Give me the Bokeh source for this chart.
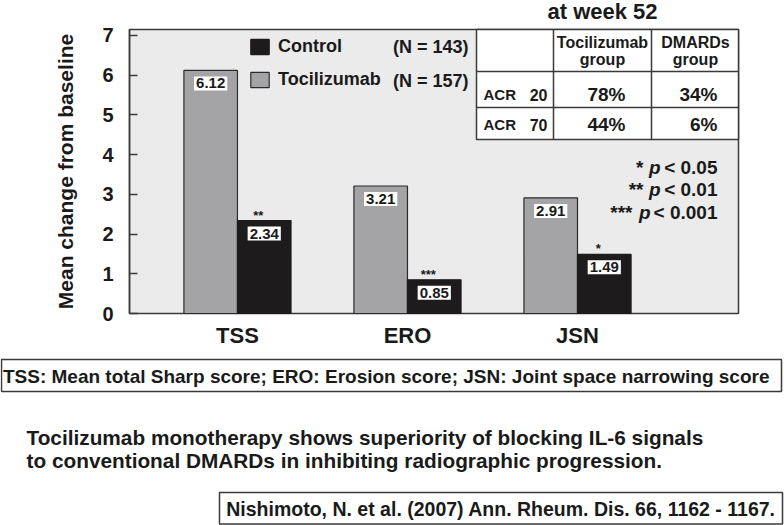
from bokeh.plotting import figure
from bokeh.models import (Range1d, FixedTicker, Legend, LegendItem, ColumnDataSource,
                          LinearAxis)
from bokeh.embed import file_html
from bokeh.resources import INLINE
from bokeh.core.properties import value

# ---------------- data ----------------
categories = ["TSS", "ERO", "JSN"]
descriptions = ["Mean total Sharp score", "Erosion score", "Joint space narrowing score"]
control = [2.34, 0.85, 1.49]
tocilizumab = [6.12, 3.21, 2.91]
significance = ["**", "***", "*"]
control_n = 143
tocilizumab_n = 157
y_ticks = [0, 1, 2, 3, 4, 5, 6, 7]

table_title = "at week 52"
table_header = [["Tocilizumab", "group"], ["DMARDs", "group"]]
acr_levels = ["20", "70"]
acr_tocilizumab = ["78%", "44%"]
acr_dmards = ["34%", "6%"]

pvalue_stars = ["*", "**", "***"]
pvalue_levels = ["< 0.05", "< 0.01", "< 0.001"]

summary_lines = ["Tocilizumab monotherapy shows superiority of blocking IL-6 signals",
                 "to conventional DMARDs in inhibiting radiographic progression."]
citation = "Nishimoto, N. et al. (2007) Ann. Rheum. Dis. 66, 1162 - 1167."

FONT = "Liberation Sans"
INK = "#1a1a1a"
EDGE = "#3a3a3a"
GRAY = "#a4a4a6"
BLACK = "#1e1b1c"

W, H = 784, 525
# plot area in page pixels and in data units
PL, PR, PT, PB = 129, 738, 29, 313
XL, XR, YT = 0.365, 3.947, 7.15
ux = (XR - XL) / (PR - PL)
uy = YT / (PB - PT)

p = figure(width=W, height=H,
           x_range=Range1d(XL - PL * ux, XR + (W - PR) * ux),
           y_range=Range1d(-(H - PB) * uy, YT + PT * uy),
           output_backend="svg", toolbar_location=None,
           x_axis_location=None, y_axis_location=None, min_border=0)
p.outline_line_color = None
p.background_fill_color = "white"
p.border_fill_color = "white"
p.xgrid.visible = False
p.ygrid.visible = False

# page-pixel helper ranges for annotations (y grows downward)
p.extra_x_ranges = {"px": Range1d(0, W)}
p.extra_y_ranges = {"px": Range1d(H, 0)}
px = dict(x_range_name="px", y_range_name="px")

# plot area
p.quad(left=[XL], right=[XR], bottom=[0], top=[YT], fill_color="#ebebeb",
       line_color=EDGE, line_width=1.5)

idx = [i + 1 for i in range(len(categories))]
w = 0.315
src = ColumnDataSource(dict(
    xt=[i - w / 2 for i in idx], xc=[i + w / 2 for i in idx],
    toc=tocilizumab, ctl=control,
    toc_lbl=[f"{v:.2f}" for v in tocilizumab], ctl_lbl=[f"{v:.2f}" for v in control],
    sig=significance))

r_toc = p.vbar(x="xt", top="toc", bottom=0, width=w, source=src,
               fill_color=GRAY, line_color="#2b2b2b", line_width=1.2)
r_ctl = p.vbar(x="xc", top="ctl", bottom=0, width=w, source=src,
               fill_color=BLACK, line_color=BLACK, line_width=1.2)

lbl_kw = dict(text_align="center", text_baseline="top", y_offset=6, text_font=value(FONT),
              text_font_style="bold", text_font_size="15px", text_color=INK,
              background_fill_color="white", padding=2)
p.text(x="xt", y="toc", text="toc_lbl", source=src, **lbl_kw)
p.text(x="xc", y="ctl", text="ctl_lbl", source=src, **lbl_kw)
p.text(x="xc", y="ctl", text="sig", source=src, text_align="center", text_baseline="bottom",
       x_offset=-6, y_offset=2, text_font=value(FONT), text_font_style="bold",
       text_font_size="13px", text_color=INK)

# axes
xaxis = LinearAxis(fixed_location=0, ticker=FixedTicker(ticks=idx),
                   major_label_overrides={i: c for i, c in zip(idx, categories)},
                   major_tick_in=0, major_tick_out=0, minor_tick_line_color=None,
                   axis_line_color=None, major_label_standoff=9,
                   major_label_text_font=FONT, major_label_text_font_style="bold",
                   major_label_text_font_size="22px", major_label_text_color=INK)
p.add_layout(xaxis, "below")

yaxis = LinearAxis(fixed_location=XL, bounds=(0, YT), ticker=FixedTicker(ticks=y_ticks),
                   major_tick_in=8, major_tick_out=0, major_tick_line_color=EDGE,
                   major_tick_line_width=1.5, minor_tick_line_color=None,
                   axis_line_color=EDGE, axis_line_width=1.5, major_label_standoff=16,
                   major_label_text_font=FONT, major_label_text_font_style="bold",
                   major_label_text_font_size="20px", major_label_text_color=INK,
                   axis_label="Mean change from baseline", axis_label_standoff=22,
                   axis_label_text_font=FONT, axis_label_text_font_style="bold",
                   axis_label_text_font_size="21px", axis_label_text_color=INK)
p.add_layout(yaxis, "left")

# legend
legend = Legend(items=[LegendItem(label="Control", renderers=[r_ctl]),
                       LegendItem(label="Tocilizumab", renderers=[r_toc])],
                location=(248, 435), glyph_width=23, glyph_height=19, label_height=19,
                spacing=12, padding=0, margin=0, label_standoff=7,
                border_line_color=None, background_fill_alpha=0,
                label_text_font=FONT, label_text_font_style="bold",
                label_text_font_size="18px", label_text_color=INK)
p.add_layout(legend)

tkw = dict(text_font=value(FONT), text_font_style="bold", text_color=INK, **px)
p.text(x=[468, 468], y=[46, 80], text=[f"(N = {control_n})", f"(N = {tocilizumab_n})"],
       text_align="right", text_baseline="middle", text_font_size="18px", **tkw)

# table
p.quad(left=[476], right=[738], top=[29], bottom=[139], fill_color="white",
       line_color=EDGE, line_width=1.5, **px)
p.segment(x0=[553, 651, 476, 476], y0=[29, 29, 71, 107],
          x1=[553, 651, 738, 738], y1=[139, 139, 71, 107],
          line_color=EDGE, line_width=1.5, **px)
p.text(x=[602], y=[11], text=[table_title], text_align="center", text_baseline="middle",
       text_font_size="22px", **tkw)
for (l1, l2), cx in zip(table_header, [602, 695]):
    p.text(x=[cx, cx], y=[42, 59], text=[l1, l2], text_align="center",
           text_baseline="middle", text_font_size="16px", **tkw)
row_y = [94, 124]
p.text(x=[483] * 2, y=row_y, text=["ACR"] * 2, text_align="left", text_baseline="middle",
       text_font_size="15px", **tkw)
p.text(x=[547] * 2, y=row_y, text=acr_levels, text_align="right", text_baseline="middle",
       text_font_size="16px", **tkw)
p.text(x=[625] * 2, y=row_y, text=acr_tocilizumab, text_align="right", text_baseline="middle",
       text_font_size="19px", **tkw)
p.text(x=[717] * 2, y=row_y, text=acr_dmards, text_align="right", text_baseline="middle",
       text_font_size="19px", **tkw)

# significance key
pv_y = [167, 189, 212]
p.text(x=[717] * 3, y=pv_y, text=pvalue_levels, text_align="right", text_baseline="middle",
       text_font_size="19px", **tkw)
p.text(x=[660, 660, 650], y=pv_y, text=["p"] * 3, text_align="right", text_baseline="middle",
       text_font_size="19px", text_font=value(FONT), text_font_style="bold italic",
       text_color=INK, **px)
p.text(x=[643, 643, 632], y=pv_y, text=pvalue_stars, text_align="right",
       text_baseline="middle", text_font_size="19px", **tkw)

# notes below the chart
footnote = ";  ".join(f"{c}: {d}" for c, d in zip(categories, descriptions))
p.quad(left=[1], right=[781], top=[359], bottom=[391], fill_color=None,
       line_color=EDGE, line_width=1.5, **px)
p.text(x=[391], y=[375.5], text=[footnote], text_align="center", text_baseline="middle",
       text_font_size="19px", **tkw)
p.text(x=[26, 26], y=[437, 460], text=summary_lines, text_align="left",
       text_baseline="alphabetic", text_font_size="20.8px", **tkw)
p.quad(left=[219], right=[782], top=[492], bottom=[523.5], fill_color=None,
       line_color=EDGE, line_width=1.5, **px)
p.text(x=[500.5], y=[508], text=[citation], text_align="center", text_baseline="middle",
       text_font_size="19.5px", **tkw)

open("out.html", "w").write(file_html(p, INLINE))
